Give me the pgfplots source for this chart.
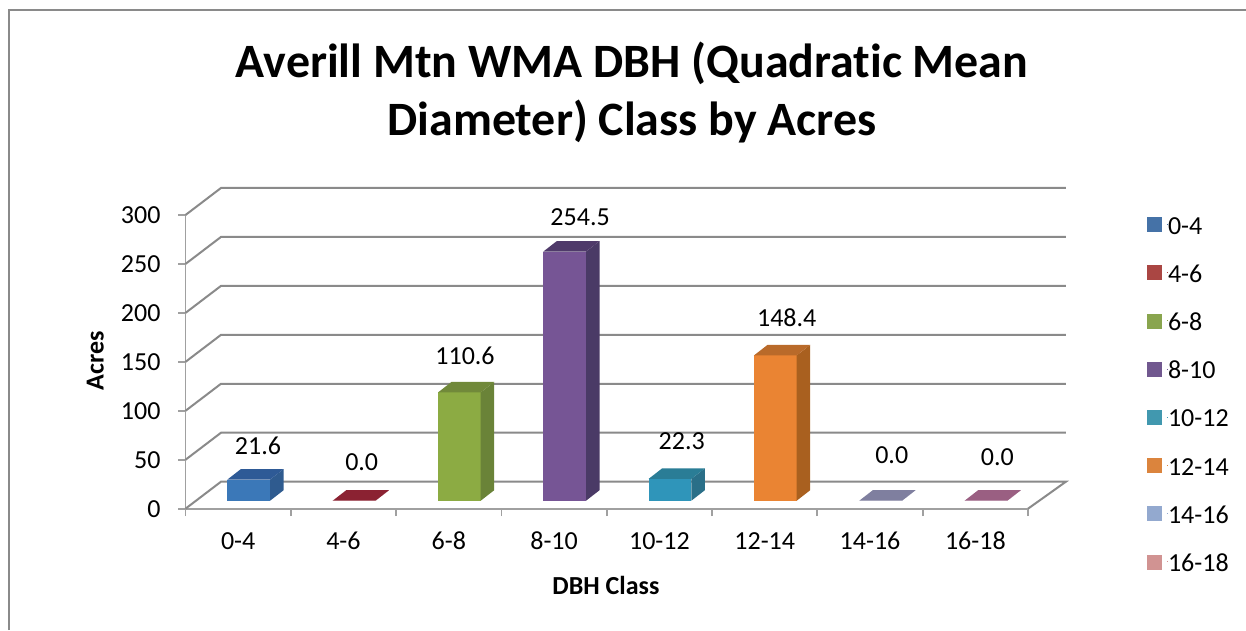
\documentclass[border=0pt]{standalone}
\usepackage{pgfplots}
\pgfplotsset{compat=1.18}
\usepackage{fontspec}
\setmainfont[RawFeature=-liga]{Carlito}
\definecolor{gridc}{HTML}{8A8A8A}
\definecolor{axisc}{HTML}{A0A0A0}
\definecolor{fa}{HTML}{3B78B8}\definecolor{ta}{HTML}{2E5A96}\definecolor{sa}{HTML}{2F5B8F}
\definecolor{fb}{HTML}{8B2232}\definecolor{tb}{HTML}{8B2232}\definecolor{sb}{HTML}{8B2232}
\definecolor{fc}{HTML}{8CAB43}\definecolor{tc}{HTML}{71893A}\definecolor{sc}{HTML}{6A8338}
\definecolor{fd}{HTML}{765595}\definecolor{td}{HTML}{4F3A6A}\definecolor{sd}{HTML}{4A3A66}
\definecolor{fe}{HTML}{2F95BA}\definecolor{te}{HTML}{2A7D96}\definecolor{se}{HTML}{2A6F88}
\definecolor{ff}{HTML}{EA8433}\definecolor{tf}{HTML}{B96A2A}\definecolor{sf}{HTML}{A9601F}
\definecolor{fg}{HTML}{7F7F9F}\definecolor{tg}{HTML}{7F7F9F}\definecolor{sg}{HTML}{7F7F9F}
\definecolor{fh}{HTML}{9A5F82}\definecolor{th}{HTML}{9A5F82}\definecolor{sh}{HTML}{9A5F82}
\definecolor{la}{HTML}{4572A7}\definecolor{lb}{HTML}{AA4643}\definecolor{lc}{HTML}{89A54E}
\definecolor{ld}{HTML}{71588F}\definecolor{le}{HTML}{4198AF}\definecolor{lf}{HTML}{DB843D}
\definecolor{lg}{HTML}{93A9CF}\definecolor{lh}{HTML}{D19392}
% #1 category centre, #2 value, #3 #4 #5 face colours, #6 #7 label offset
\newcommand\tdbar[7]{%
  \addplot[ybar, bar width=42.7pt, bar shift=0pt, fill=#3, draw=none, xshift=10.6pt, yshift=8pt, forget plot] coordinates {(#1,#2)};
  \fill[#5] ([shift={(31.95pt,8pt)}]axis cs:#1,0) -- ([shift={(45.45pt,18.5pt)}]axis cs:#1,0)
     -- ([shift={(45.45pt,18.5pt)}]axis cs:#1,#2) -- ([shift={(31.95pt,8pt)}]axis cs:#1,#2) -- cycle;
  \fill[#4] ([shift={(-10.75pt,8pt)}]axis cs:#1,#2) -- ([shift={(31.95pt,8pt)}]axis cs:#1,#2)
     -- ([shift={(45.45pt,18.5pt)}]axis cs:#1,#2) -- ([shift={(2.75pt,18.5pt)}]axis cs:#1,#2) -- cycle;
  \node[font=\fontsize{26}{30}\selectfont, inner sep=0pt] at ([shift={(#6pt,#7pt)}]axis cs:#1,#2) {\pgfmathprintnumber[fixed,fixed zerofill,precision=1,/pgf/number format/assume math mode=true]{#2}};
}
\begin{document}
\begin{tikzpicture}
\useasboundingbox (0,0) rectangle (1246pt,630pt);
\fill[white] (0,0) rectangle (1246pt,630pt);
\draw[gridc, line width=2pt] (9pt,0) -- (9pt,620pt) -- (1246pt,620pt);
\begin{axis}[
  at={(185.5pt,121.3pt)}, anchor=south west,
  scale only axis, width=842.5pt, height=293.7pt,
  xmin=0, xmax=8, ymin=0, ymax=300, clip=false,
  axis lines=left, axis line style={-, axisc, line width=1.8pt},
  xtick={0,1,2,3,4,5,6,7,8}, x tick label as interval,
  xticklabels={0-4,4-6,6-8,8-10,10-12,12-14,14-16,16-18},
  ytick={0,50,100,150,200,250,300},
  tick style={axisc, line width=1.8pt}, tick align=outside, major tick length=7.5pt,
  /pgf/number format/assume math mode=true,
  tick label style={font=\fontsize{26}{30}\selectfont, black},
  xticklabel style={yshift=-12.5pt},
  yticklabel style={xshift=-14pt},
  title={Averill Mtn WMA DBH (Quadratic Mean\\Diameter) Class by Acres},
  title style={at={(axis description cs:0.53,1.397)}, anchor=center, align=center,
    font=\fontsize{47.9}{58}\selectfont\bfseries},
  xlabel={DBH Class}, ylabel={Acres},
  every axis x label/.style={at={(axis description cs:0.499,-0.26)}, anchor=center,
    font=\fontsize{26}{30}\selectfont\bfseries},
  every axis y label/.style={at={(axis description cs:-0.107,0.503)}, anchor=center, rotate=90,
    font=\fontsize{26}{30}\selectfont\bfseries},
]
% wall and floor grid
\addplot[gridc, line width=2pt, forget plot] coordinates {(0,0)(0.337,27.6)(8.36,27.6)(8,0)};
\addplot[gridc, line width=2pt, forget plot] coordinates {(0,50)(0.337,77.6)(8.36,77.6)};
\addplot[gridc, line width=2pt, forget plot] coordinates {(0,100)(0.337,127.6)(8.36,127.6)};
\addplot[gridc, line width=2pt, forget plot] coordinates {(0,150)(0.337,177.6)(8.36,177.6)};
\addplot[gridc, line width=2pt, forget plot] coordinates {(0,200)(0.337,227.6)(8.36,227.6)};
\addplot[gridc, line width=2pt, forget plot] coordinates {(0,250)(0.337,277.6)(8.36,277.6)};
\addplot[gridc, line width=2pt, forget plot] coordinates {(0,300)(0.337,327.6)(8.36,327.6)};
\tdbar{0.5}{21.6}{fa}{ta}{sa}{19.85}{41.9}
\tdbar{1.5}{0}{fb}{tb}{sb}{18.25}{46.7}
\tdbar{2.5}{110.6}{fc}{tc}{sc}{16.25}{44.4}
\tdbar{3.5}{254.5}{fd}{td}{sd}{26}{42.2}
\tdbar{4.5}{22.3}{fe}{te}{se}{22.3}{46.2}
\tdbar{5.5}{148.4}{ff}{tf}{sf}{22}{45.4}
\tdbar{6.5}{0}{fg}{tg}{sg}{21.7}{53.7}
\tdbar{7.5}{0}{fh}{th}{sh}{22}{52}
% legend
\pgfplotsset{
  legend image code/.code={\fill[#1,draw=none] (0pt,2pt) rectangle (15pt,17pt);\path (20pt,10pt) -- (21pt,10pt);},
  legend cell align=left,
  legend style={draw=none, fill=none, at={(1.141,1.037)}, anchor=north west,
    inner sep=0pt, outer sep=0pt,
    font=\fontsize{26}{30}\selectfont,
    row sep=0pt,
    nodes={text height=30pt, text depth=18.2pt, inner sep=0pt, anchor=base west, xshift=17pt}},
}
\addlegendimage{la}\addlegendentry{0-4}
\addlegendimage{lb}\addlegendentry{4-6}
\addlegendimage{lc}\addlegendentry{6-8}
\addlegendimage{ld}\addlegendentry{8-10}
\addlegendimage{le}\addlegendentry{10-12}
\addlegendimage{lf}\addlegendentry{12-14}
\addlegendimage{lg}\addlegendentry{14-16}
\addlegendimage{lh}\addlegendentry{16-18}
\end{axis}
\end{tikzpicture}
\end{document}
